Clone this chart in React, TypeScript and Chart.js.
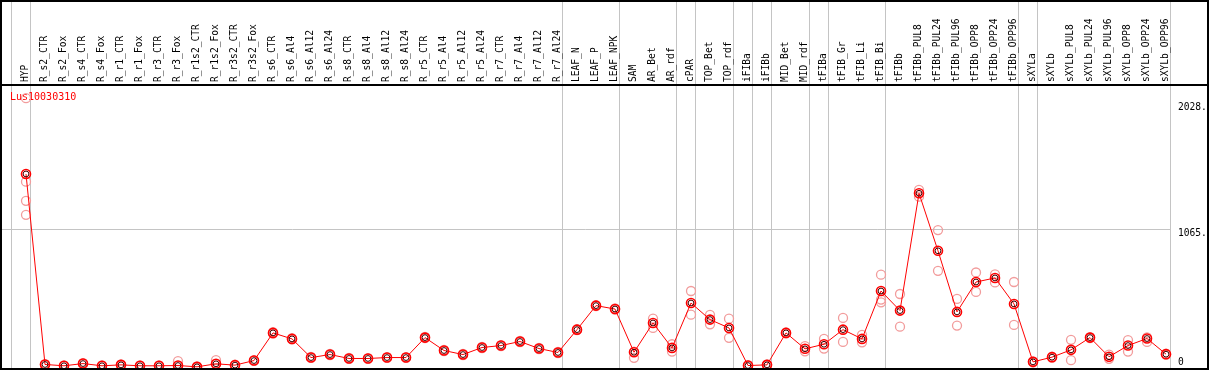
import React, { useEffect, useRef } from "react";
import { Chart, registerables } from "chart.js";

Chart.register(...registerables);

const categories = [
  "HYP", "R_s2_CTR", "R_s2_Fox", "R_s4_CTR", "R_s4_Fox", "R_r1_CTR", "R_r1_Fox", "R_r3_CTR", "R_r3_Fox",
  "R_r1s2_CTR", "R_r1s2_Fox", "R_r3s2_CTR", "R_r3s2_Fox", "R_s6_CTR", "R_s6_Al4", "R_s6_Al12", "R_s6_Al24",
  "R_s8_CTR", "R_s8_Al4", "R_s8_Al12", "R_s8_Al24", "R_r5_CTR", "R_r5_Al4", "R_r5_Al12", "R_r5_Al24",
  "R_r7_CTR", "R_r7_Al4", "R_r7_Al12", "R_r7_Al24", "LEAF_N", "LEAF_P", "LEAF_NPK", "SAM", "AR_Bet", "AR_rdf",
  "cPAR", "TOP_Bet", "TOP_rdf", "iFIBa", "iFIBb", "MID_Bet", "MID_rdf", "tFIBa", "tFIB_Gr", "tFIB_Li", "tFIB_Bi",
  "tFIBb", "tFIBb_PUL8", "tFIBb_PUL24", "tFIBb_PUL96", "tFIBb_OPP8", "tFIBb_OPP24", "tFIBb_OPP96",
  "sXYLa", "sXYLb", "sXYLb_PUL8", "sXYLb_PUL24", "sXYLb_PUL96", "sXYLb_OPP8", "sXYLb_OPP24", "sXYLb_OPP96",
];

const meanValues = [
  1487, 27, 17, 34, 17, 24, 17, 17, 19, 9, 32, 22, 57, 269, 223,
  80, 103, 73, 73, 80, 80, 233, 134, 103, 157, 172, 203, 149, 119,
  294, 478, 452, 121, 345, 154, 498, 371, 307, 19, 24, 269, 147, 182, 294, 223, 590, 440,
  1339, 898, 430, 659, 690, 491, 47, 83, 139, 233, 86, 172, 226, 106,
];

const repHigh = [
  2068, 30, 20, 38, 20, 28, 20, 20, 52, 12, 60, 25, 60, 275, 228,
  85, 108, 78, 76, 84, 84, 238, 138, 108, 162, 176, 208, 154, 123,
  298, 482, 456, 126, 378, 182, 590, 407, 378, 22, 27, 273, 167, 223, 384, 254, 715, 567,
  1365, 1057, 529, 732, 717, 659, 50, 87, 216, 237, 103, 213, 235, 110,
];

const repLow = [
  1428, 24, 15, 31, 15, 21, 15, 15, 17, 7, 30, 20, 54, 264, 219,
  77, 99, 70, 70, 77, 77, 229, 130, 99, 153, 168, 199, 145, 115,
  290, 474, 448, 78, 307, 126, 409, 335, 231, 17, 21, 265, 128, 149, 200, 197, 524, 317,
  1313, 745, 325, 583, 656, 330, 44, 80, 60, 229, 70, 126, 200, 103,
];

// extra replicates (only where a third / fourth one is visible)
const repExtraIndex = [0, 0, 45];
const repExtraValues = [1281, 1174, 503];

// last category of each group (vertical separators); -1 = left edge
const groupEnds = [-1, 0, 28, 31, 34, 35, 37, 38, 39, 41, 42, 45, 52, 53, 60];

const axisTicks = [2028, 1065, 0];
const axisTickLabels = ["2028.", "1065.", "0"];
const gridValue = 1065;
const geneTitle = "Lus10030310";

const FONT = '"DejaVu Sans Mono", monospace';

const pts = (arr: number[]) => arr.map((v, i) => ({ x: i, y: v }));

const decorPlugin = {
  id: "decor",
  beforeDatasetsDraw(chart: any) {
    const ctx = chart.ctx;
    const xs = chart.scales.x;
    const ys = chart.scales.y;
    ctx.save();
    ctx.strokeStyle = "#c4c4c4";
    ctx.lineWidth = 1;
    groupEnds.forEach((k) => {
      const px = Math.floor(xs.getPixelForValue(k + 0.247)) + 0.5;
      ctx.beginPath();
      ctx.moveTo(px, 0);
      ctx.lineTo(px, chart.height);
      ctx.stroke();
    });
    const gy = Math.round(ys.getPixelForValue(gridValue)) + 0.5;
    ctx.beginPath();
    ctx.moveTo(0, gy);
    ctx.lineTo(Math.floor(xs.getPixelForValue(60.247)) + 0.5, gy);
    ctx.stroke();

    ctx.fillStyle = "#ff0000";
    ctx.font = `10px ${FONT}`;
    ctx.textAlign = "left";
    ctx.textBaseline = "middle";
    ctx.fillText(geneTitle, 10, 97);
    ctx.restore();
  },
  afterDraw(chart: any) {
    const ctx = chart.ctx;
    const xs = chart.scales.x;
    const ys = chart.scales.y;
    const W = chart.width;
    const H = chart.height;
    ctx.save();
    // header labels
    ctx.fillStyle = "#000";
    ctx.font = `9.6px ${FONT}`;
    ctx.textAlign = "left";
    ctx.textBaseline = "middle";
    categories.forEach((c, i) => {
      const px = xs.getPixelForValue(i) - 0.5;
      ctx.save();
      ctx.translate(px, 82);
      ctx.rotate(-Math.PI / 2);
      ctx.fillText(c, 0, 0);
      ctx.restore();
    });
    // right axis labels
    axisTicks.forEach((v, i) => {
      let py = ys.getPixelForValue(v) + 4;
      if (v === 0) py = ys.getPixelForValue(v) - 6;
      ctx.fillText(axisTickLabels[i], 1178, py);
    });
    // frame
    ctx.fillStyle = "#000";
    ctx.fillRect(0, 0, W, 2);
    ctx.fillRect(0, 0, 2, H);
    ctx.fillRect(W - 2, 0, 2, H);
    ctx.fillRect(0, H - 2, W, 2);
    ctx.fillRect(0, 84, W, 2);
    ctx.restore();
  },
};

export default function App() {
  const ref = useRef<HTMLCanvasElement | null>(null);
  useEffect(() => {
    document.body.style.margin = "0";
    const canvas = ref.current;
    if (!canvas) return;
    const extraPts = repExtraIndex.map((k, i) => ({ x: k, y: repExtraValues[i] }));
    const repStyle = {
      showLine: false,
      pointRadius: 4.5,
      pointBorderColor: "#f29c9c",
      pointBackgroundColor: "rgba(0,0,0,0)",
      pointBorderWidth: 1.3,
      borderColor: "#f29c9c",
      order: 5,
      clip: false,
    };
    const chart = new Chart(canvas, {
      type: "line",
      data: {
        datasets: [
          { ...repStyle, data: pts(repHigh) },
          { ...repStyle, data: pts(repLow) },
          { ...repStyle, data: extraPts },
          {
            data: pts(meanValues),
            borderColor: "#ff0000",
            borderWidth: 1,
            pointRadius: 4.5,
            pointBorderColor: "#ff0000",
            pointBorderWidth: 1.6,
            pointBackgroundColor: "rgba(0,0,0,0)",
            tension: 0,
            order: 1,
            clip: false,
          },
          {
            data: pts(meanValues),
            showLine: false,
            pointRadius: 2.9,
            pointBorderColor: "#400000",
            pointBorderWidth: 1,
            pointBackgroundColor: "rgba(0,0,0,0)",
            order: 0,
            clip: false,
          },
        ] as any,
      },
      options: {
        animation: false,
        responsive: false,
        events: [],
        layout: { autoPadding: false, padding: { left: 1, right: 1, top: 86, bottom: 2 } },
        plugins: { legend: { display: false }, tooltip: { enabled: false } },
        scales: {
          x: { type: "linear", min: -1.3158, max: 62.21, display: false },
          y: { type: "linear", min: 0, max: 2161, display: false },
        },
      },
      plugins: [decorPlugin],
    });
    return () => chart.destroy();
  }, []);
  return <canvas ref={ref} width={1209} height={370} style={{ display: "block" }} />;
}
